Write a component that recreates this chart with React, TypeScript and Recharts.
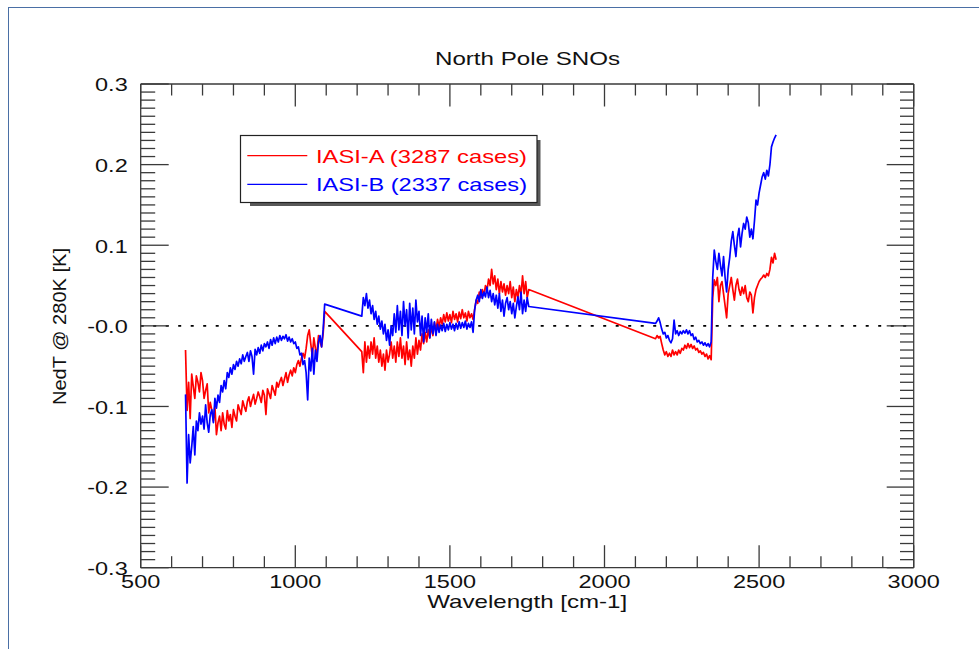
import React from 'react';
import { LineChart, Line, XAxis, YAxis, ReferenceLine, Legend } from 'recharts';

// ---- wavenumber grids (cm-1) per spectral band ----
const wnLW = [
  645, 650, 655, 660, 665, 670, 675, 680, 685, 690,
  695, 700, 705, 710, 715, 720, 725, 730, 735, 740,
  745, 750, 755, 760, 765, 770, 775, 780, 785, 790,
  795, 800, 805, 810, 815, 820, 825, 830, 835, 840,
  845, 850, 855, 860, 865, 870, 875, 880, 885, 890,
  895, 900, 905, 910, 915, 920, 925, 930, 935, 940,
  945, 950, 955, 960, 965, 970, 975, 980, 985, 990,
  995, 1000, 1005, 1010, 1015, 1020, 1025, 1030, 1035, 1040,
  1045, 1050, 1055, 1060, 1065, 1070, 1075, 1080, 1085, 1090,
  1095,
];
const wnMW = [
  1215, 1220, 1225, 1230, 1235, 1240, 1245, 1250, 1255, 1260,
  1265, 1270, 1275, 1280, 1285, 1290, 1295, 1300, 1305, 1310,
  1315, 1320, 1325, 1330, 1335, 1340, 1345, 1350, 1355, 1360,
  1365, 1370, 1375, 1380, 1385, 1390, 1395, 1400, 1405, 1410,
  1415, 1420, 1425, 1430, 1435, 1440, 1445, 1450, 1455, 1460,
  1465, 1470, 1475, 1480, 1485, 1490, 1495, 1500, 1505, 1510,
  1515, 1520, 1525, 1530, 1535, 1540, 1545, 1550, 1555, 1560,
  1565, 1570, 1575, 1580, 1585, 1590, 1595, 1600, 1605, 1610,
  1615, 1620, 1625, 1630, 1635, 1640, 1645, 1650, 1655, 1660,
  1665, 1670, 1675, 1680, 1685, 1690, 1695, 1700, 1705, 1710,
  1715, 1720, 1725, 1730, 1735, 1740, 1745, 1750, 1755,
];
const wnSW1 = [
  2165, 2170, 2175, 2180, 2185, 2190, 2195, 2200, 2205, 2210,
  2215, 2220, 2225, 2230, 2235, 2240, 2245, 2250, 2255, 2260,
  2265, 2270, 2275, 2280, 2285, 2290, 2295, 2300, 2305, 2310,
  2315, 2320, 2325, 2330, 2335, 2340, 2345,
];
const wnSW2 = [
  2350, 2355, 2360, 2365, 2370, 2375, 2380, 2385, 2390, 2395,
  2400, 2405, 2410, 2415, 2420, 2425, 2430, 2435, 2440, 2445,
  2450, 2455, 2460, 2465, 2470, 2475, 2480, 2485, 2490, 2495,
  2500, 2505, 2510, 2515, 2520, 2525, 2530, 2535, 2540, 2545,
  2550, 2555,
];

// ---- IASI-A NedT differences (K) ----
const aLW = [
  -0.03, -0.105, -0.07, -0.115, -0.06, -0.075, -0.09, -0.062, -0.07, -0.082,
  -0.058, -0.068, -0.09, -0.08, -0.072, -0.108, -0.095, -0.105, -0.118, -0.1,
  -0.135, -0.12, -0.112, -0.13, -0.108, -0.122, -0.128, -0.105, -0.118, -0.11,
  -0.126, -0.104, -0.112, -0.118, -0.098, -0.104, -0.11, -0.093, -0.1, -0.106,
  -0.094, -0.088, -0.1, -0.092, -0.085, -0.097, -0.09, -0.082, -0.088, -0.095,
  -0.08, -0.086, -0.11, -0.078, -0.084, -0.09, -0.074, -0.08, -0.086, -0.07,
  -0.076, -0.069, -0.064, -0.074, -0.066, -0.058, -0.07, -0.061, -0.055, -0.062,
  -0.052, -0.058, -0.048, -0.043, -0.05, -0.04, -0.034, -0.04, -0.028, -0.012,
  -0.005, -0.022, -0.038, -0.015, -0.028, -0.034, -0.012, -0.02, -0.026, -0.01,
  0.018,
];
const aMW = [
  -0.032, -0.058, -0.02, -0.045, -0.025, -0.04, -0.02, -0.035, -0.015, -0.04,
  -0.025, -0.045, -0.03, -0.05, -0.035, -0.055, -0.03, -0.045, -0.035, -0.02,
  -0.04, -0.025, -0.045, -0.02, -0.038, -0.015, -0.04, -0.025, -0.048, -0.02,
  -0.042, -0.03, -0.05, -0.025, -0.04, -0.015, -0.035, -0.018, -0.03, -0.01,
  -0.022, -0.008, -0.02, -0.005, -0.015, 0.0, -0.012, 0.004, -0.006, 0.008,
  -0.002, 0.01, 0.002, 0.014, 0.005, 0.016, 0.006, 0.014, 0.004, 0.018,
  0.008, 0.015, 0.005, 0.017, 0.009, 0.02, 0.01, 0.016, 0.006, 0.018,
  0.01, 0.015, 0.008, 0.02, 0.032, 0.028, 0.042, 0.035, 0.045, 0.038,
  0.05, 0.044, 0.058, 0.05, 0.07, 0.052, 0.062, 0.045, 0.058, 0.04,
  0.055, 0.042, 0.052, 0.038, 0.05, 0.04, 0.055, 0.035, 0.048, 0.03,
  0.045, 0.035, 0.05, 0.038, 0.062, 0.04, 0.055, 0.035, 0.045,
];
const aSW1 = [
  -0.016, -0.012, -0.015, -0.013, -0.022, -0.03, -0.036, -0.032, -0.038, -0.034,
  -0.038, -0.03, -0.036, -0.032, -0.036, -0.03, -0.034, -0.028, -0.03, -0.024,
  -0.028, -0.022, -0.027, -0.023, -0.028, -0.025, -0.03, -0.028, -0.033, -0.031,
  -0.035, -0.033, -0.038, -0.035, -0.041, -0.037, -0.042,
];
const aSW2 = [
  0.035, 0.057, 0.05, 0.06, 0.03, 0.05, 0.055, 0.04, 0.025, 0.01,
  0.04, 0.05, 0.06, 0.045, 0.032, 0.05, 0.058, 0.045, 0.038, 0.048,
  0.04, 0.05, 0.035, 0.03, 0.042, 0.038, 0.016, 0.035, 0.045, 0.05,
  0.055, 0.058, 0.06, 0.063, 0.06, 0.065, 0.062, 0.07, 0.085, 0.078,
  0.09, 0.082,
];

// ---- IASI-B NedT differences (K) ----
const bLW = [
  -0.085, -0.195, -0.135, -0.17, -0.15, -0.125, -0.16, -0.118, -0.13, -0.108,
  -0.122, -0.112, -0.128, -0.098, -0.12, -0.132, -0.11, -0.104, -0.12, -0.09,
  -0.102, -0.086, -0.095, -0.074, -0.082, -0.068, -0.078, -0.058, -0.064, -0.052,
  -0.06, -0.048, -0.054, -0.044, -0.05, -0.041, -0.047, -0.036, -0.044, -0.038,
  -0.033, -0.044, -0.031, -0.038, -0.06, -0.029, -0.036, -0.027, -0.034, -0.024,
  -0.031, -0.022, -0.026, -0.02, -0.028, -0.017, -0.024, -0.015, -0.022, -0.014,
  -0.02, -0.012, -0.018, -0.013, -0.016, -0.011, -0.019, -0.014, -0.02, -0.016,
  -0.022, -0.02, -0.028, -0.026, -0.036, -0.034, -0.048, -0.043, -0.058, -0.092,
  -0.04, -0.056, -0.028, -0.06, -0.03, -0.044, -0.02, -0.012, -0.026, -0.005,
  0.027,
];
const bMW = [
  0.012, 0.035, 0.025, 0.04, 0.022, 0.032, 0.015, 0.025, 0.008, 0.018,
  0.002, 0.012, -0.004, 0.006, -0.01, 0.002, -0.018, -0.005, -0.024, 0.0,
  -0.012, 0.015, -0.008, 0.025, -0.005, 0.018, -0.012, 0.03, 0.0, 0.02,
  -0.015, 0.028, -0.005, 0.022, -0.01, 0.032, 0.005, 0.018, -0.012, 0.012,
  -0.02, 0.01, -0.008, 0.015, -0.015, 0.008, -0.01, 0.005, -0.012, 0.002,
  -0.008, 0.001, -0.006, 0.003, -0.007, 0.002, -0.005, 0.004, -0.004, 0.002,
  -0.006, 0.003, -0.004, 0.005, -0.003, 0.004, -0.002, 0.006, -0.004, 0.003,
  -0.002, 0.005, -0.008, 0.02, 0.032, 0.038, 0.03, 0.045, 0.034, 0.042,
  0.036, 0.048, 0.035, 0.044, 0.03, 0.04, 0.026, 0.038, 0.022, 0.04,
  0.018, 0.032, 0.012, 0.028, 0.035, 0.02, 0.03, 0.015, 0.028, 0.01,
  0.024, 0.036, 0.02, 0.042, 0.015, 0.032, 0.018, 0.035, 0.024,
];
const bSW1 = [
  0.003, 0.006, 0.01, 0.004, -0.004, -0.01, -0.008, -0.015, -0.012, -0.018,
  -0.021, -0.016, 0.007, -0.01, -0.006, -0.012, -0.007, -0.01, -0.006, -0.009,
  -0.005, -0.01, -0.006, -0.012, -0.01, -0.017, -0.014, -0.02, -0.018, -0.022,
  -0.02, -0.024, -0.021, -0.025, -0.022, -0.026, -0.02,
];
const bSW2 = [
  0.06, 0.094, 0.08, 0.07, 0.09, 0.075, 0.062, 0.086, 0.06, 0.042,
  0.07, 0.085, 0.105, 0.117, 0.1, 0.086, 0.11, 0.121, 0.098, 0.115,
  0.127, 0.12, 0.135, 0.128, 0.11, 0.12, 0.108, 0.13, 0.156, 0.15,
  0.165, 0.175, 0.185, 0.19, 0.182, 0.193, 0.186, 0.2, 0.222, 0.228,
  0.233, 0.237,
];

// ---- axes ----
const xMajor = [500, 1000, 1500, 2000, 2500, 3000];
const xMinorStep = 100;
const yMajor = [-0.3, -0.2, -0.1, 0, 0.1, 0.2, 0.3];
const yMajorLabels = ['-0.3', '-0.2', '-0.1', '-0.0', '0.1', '0.2', '0.3'];
const yMinorStep = 0.01;

const seriesNames = ['IASI-A (3287 cases)', 'IASI-B (2337 cases)'];
const titleText = 'North Pole SNOs';
const xTitle = 'Wavelength [cm-1]';
const yTitle = 'NedT @ 280K [K]';

// ---- build table ----
const bands: [number[], number[], number[]][] = [
  [wnLW, aLW, bLW],
  [wnMW, aMW, bMW],
  [wnSW1, aSW1, bSW1],
  [wnSW2, aSW2, bSW2],
];
const rows: { wn: number; a: number; b: number }[] = [];
bands.forEach(([wn, a, b]) => {
  wn.forEach((w, i) => rows.push({ wn: w, a: a[i], b: b[i] }));
});

const xTicks: number[] = [];
for (let v = xMajor[0]; v <= xMajor[xMajor.length - 1]; v += xMinorStep) xTicks.push(v);
const yTicks: number[] = [];
{
  const n = Math.round((yMajor[yMajor.length - 1] - yMajor[0]) / yMinorStep);
  for (let i = 0; i <= n; i++) yTicks.push(Math.round((yMajor[0] + i * yMinorStep) * 1000) / 1000);
}
const yLabelOf = (v: number) => {
  const k = yMajor.findIndex((m) => Math.abs(m - v) < 1e-9);
  return k >= 0 ? yMajorLabels[k] : null;
};

// ---- layout ----
const W = 979;
const H = 649;
const P = { left: 140.7, top: 84, right: 913.7, bottom: 567.7 };
const AXIS = '#3a3a3a';
const FONT = '"Liberation Sans", Arial, Helvetica, sans-serif';
const SX = 1.27;
const AX = 1; // axis band thickness given to recharts

const BottomTick = (props: any) => {
  const { x, payload } = props;
  const v = payload.value;
  const major = xMajor.includes(v);
  return (
    <g>
      <line x1={x} x2={x} y1={P.bottom} y2={P.bottom - (major ? 22.5 : 11.5)} stroke={AXIS} strokeWidth={1.3} />
      {major && (
        <text transform={`translate(${x},${P.bottom + 20.6}) scale(${SX},1)`} textAnchor="middle" fontSize={18.5} fill="#111" fontFamily={FONT}>
          {String(v)}
        </text>
      )}
    </g>
  );
};
const TopTick = (props: any) => {
  const { x, payload } = props;
  const major = xMajor.includes(payload.value);
  return <line x1={x} x2={x} y1={P.top} y2={P.top + (major ? 22.5 : 11.5)} stroke={AXIS} strokeWidth={1.3} />;
};
const LeftTick = (props: any) => {
  const { y, payload } = props;
  const label = yLabelOf(payload.value);
  return (
    <g>
      <line x1={P.left} x2={P.left + (label ? 28 : 14.5)} y1={y} y2={y} stroke={AXIS} strokeWidth={1.3} />
      {label && (
        <text transform={`translate(${P.left - 13},${y + 7.3}) scale(${SX},1)`} textAnchor="end" fontSize={18.5} fill="#111" fontFamily={FONT}>
          {label}
        </text>
      )}
    </g>
  );
};
const RightTick = (props: any) => {
  const { y, payload } = props;
  const label = yLabelOf(payload.value);
  return <line x1={P.right} x2={P.right - (label ? 27 : 13.7)} y1={y} y2={y} stroke={AXIS} strokeWidth={1.3} />;
};

const LegendBox = () => {
  const colors = ['#ff0000', '#0000ff'];
  return (
    <svg width={310} height={80} style={{ display: 'block', overflow: 'visible' }}>
      <rect x={10} y={5} width={290.5} height={66} fill="#3c3c3c" opacity={0.85} />
      <rect x={0.5} y={0.5} width={296.5} height={67} fill="#ffffff" stroke="#222" strokeWidth={1.2} />
      {seriesNames.map((n, i) => (
        <g key={n}>
          <line x1={7.3} x2={67.3} y1={20.7 + i * 28.6} y2={20.7 + i * 28.6} stroke={colors[i]} strokeWidth={1.3} />
          <text x={76} y={27.7 + i * 28} fontSize={19} fill={colors[i]} fontFamily={FONT} textLength={211} lengthAdjust="spacingAndGlyphs">
            {n}
          </text>
        </g>
      ))}
    </svg>
  );
};

export default function App() {
  return (
    <div style={{ position: 'absolute', left: 0, top: 0, width: W, height: H, overflow: 'hidden', background: '#fff' }}>
      <div
        style={{
          position: 'absolute',
          left: 7.5,
          top: 6.5,
          width: 2000,
          height: 2000,
          borderTop: '1.6px solid #4a6fa5',
          borderLeft: '1.6px solid #4a6fa5',
        }}
      />
      <div style={{ position: 'absolute', left: 0, top: 0 }}>
        <LineChart
          width={W}
          height={H}
          data={rows}
          margin={{ top: P.top - AX, left: P.left - AX, right: W - P.right - AX, bottom: H - P.bottom - AX }}
        >
          <XAxis
            dataKey="wn"
            type="number"
            domain={[500, 3000]}
            allowDataOverflow
            ticks={xTicks}
            interval={0}
            height={AX}
            tickSize={0}
            tickMargin={0}
            tickLine={false}
            tick={<BottomTick />}
            axisLine={{ stroke: AXIS, strokeWidth: 1.3 }}
            label={{
              content: () => (
                <text x={(P.left + P.right) / 2} y={607.7} textAnchor="middle" fontSize={18.5} fill="#111" fontFamily={FONT} textLength={200} lengthAdjust="spacingAndGlyphs">
                  {xTitle}
                </text>
              ),
            }}
          />
          <XAxis
            xAxisId="top"
            orientation="top"
            dataKey="wn"
            type="number"
            domain={[500, 3000]}
            allowDataOverflow
            ticks={xTicks}
            interval={0}
            height={AX}
            tickSize={0}
            tickMargin={0}
            tickLine={false}
            tick={<TopTick />}
            axisLine={{ stroke: AXIS, strokeWidth: 1.3 }}
            label={{
              content: () => (
                <text x={527.5} y={65} textAnchor="middle" fontSize={19} fill="#111" fontFamily={FONT} textLength={185} lengthAdjust="spacingAndGlyphs">
                  {titleText}
                </text>
              ),
            }}
          />
          <YAxis
            type="number"
            domain={[-0.3, 0.3]}
            allowDataOverflow
            ticks={yTicks}
            interval={0}
            width={AX}
            tickSize={0}
            tickMargin={0}
            tickLine={false}
            tick={<LeftTick />}
            axisLine={{ stroke: AXIS, strokeWidth: 1.3 }}
            label={{
              content: () => (
                <text transform={`translate(66,326.5) rotate(-90)`} textAnchor="middle" fontSize={19} fill="#111" fontFamily={FONT} textLength={157} lengthAdjust="spacingAndGlyphs">
                  {yTitle}
                </text>
              ),
            }}
          />
          <YAxis
            yAxisId="right"
            orientation="right"
            type="number"
            domain={[-0.3, 0.3]}
            allowDataOverflow
            ticks={yTicks}
            interval={0}
            width={AX}
            tickSize={0}
            tickMargin={0}
            tickLine={false}
            tick={<RightTick />}
            axisLine={{ stroke: AXIS, strokeWidth: 1.3 }}
          />
          <ReferenceLine y={0} stroke="#000" strokeWidth={1.6} strokeDasharray="3 9.5" />
          <Line dataKey="a" name={seriesNames[0]} stroke="#ff0000" strokeWidth={1.7} strokeLinejoin="round" dot={false} isAnimationActive={false} />
          <Line dataKey="b" name={seriesNames[1]} stroke="#0000ff" strokeWidth={1.7} strokeLinejoin="round" dot={false} isAnimationActive={false} />
          <Legend
            layout="horizontal"
            verticalAlign="middle"
            align="center"
            content={() => <LegendBox />}
            wrapperStyle={{ left: 240, top: 135, width: 310, height: 80 }}
          />
        </LineChart>
      </div>
    </div>
  );
}
